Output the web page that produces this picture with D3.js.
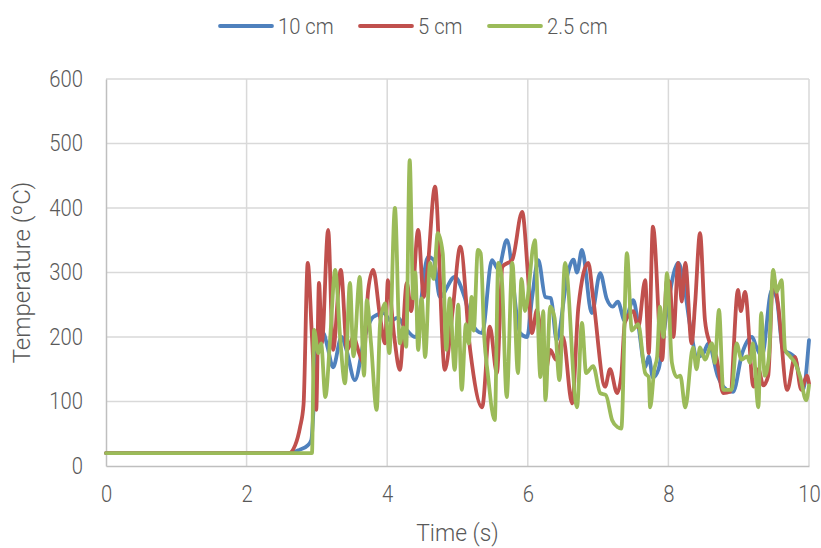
<!DOCTYPE html>
<html>
<head>
<meta charset="utf-8">
<script src="https://cdn.jsdelivr.net/npm/d3@7"></script>
<style>
  html, body { margin: 0; padding: 0; background: #fff; }
  svg { display: block; font-family: Roboto, "Open Sans", sans-serif; font-weight: 300; }
</style>
</head>
<body>
<svg id="chart" width="821" height="548"></svg>
<script>
// ---- data ----
const seriesNames = ["10 cm", "5 cm", "2.5 cm"];
const xTicks = [0, 2, 4, 6, 8, 10];
const yTicks = [0, 100, 200, 300, 400, 500, 600];

const blueT = [0, 2.6, 2.75, 2.87, 2.92, 3.0, 3.09, 3.15, 3.23, 3.35, 3.42, 3.54, 3.68, 3.80, 3.95, 4.05, 4.15, 4.25, 4.40, 4.58, 4.66, 4.75, 4.96, 5.10, 5.2, 5.35, 5.49, 5.58, 5.70, 5.89, 5.99, 6.06, 6.15, 6.25, 6.33, 6.41, 6.57, 6.65, 6.70, 6.77, 6.91, 7.03, 7.12, 7.21, 7.28, 7.38, 7.50, 7.57, 7.67, 7.72, 7.78, 7.86, 7.98, 8.14, 8.21, 8.31, 8.41, 8.5, 8.57, 8.7, 8.83, 8.92, 9.05, 9.19, 9.25, 9.33, 9.47, 9.54, 9.63, 9.72, 9.80, 9.91, 10];
const blueV = [20, 20, 25, 32, 40, 180, 206, 185, 153, 200, 180, 133, 200, 231, 237, 225, 230, 215, 200, 324, 320, 262, 293, 262, 222, 206, 319, 305, 350, 206, 200, 260, 319, 262, 260, 195, 299, 320, 300, 335, 237, 299, 260, 247, 255, 225, 257, 220, 153, 170, 137, 150, 242, 315, 290, 216, 169, 175, 190, 140, 118, 115, 175, 200, 185, 170, 273, 260, 180, 175, 168, 118, 195];

const redT = [0, 2.6, 2.69, 2.76, 2.81, 2.87, 2.93, 2.99, 3.03, 3.07, 3.16, 3.23, 3.34, 3.43, 3.52, 3.60, 3.66, 3.73, 3.80, 3.90, 3.97, 4.01, 4.10, 4.18, 4.28, 4.34, 4.44, 4.52, 4.57, 4.68, 4.82, 4.93, 5.04, 5.18, 5.35, 5.46, 5.56, 5.64, 5.78, 5.92, 6.0, 6.06, 6.13, 6.25, 6.32, 6.40, 6.50, 6.63, 6.72, 6.86, 6.93, 7.10, 7.17, 7.27, 7.33, 7.38, 7.50, 7.57, 7.67, 7.72, 7.78, 7.91, 7.98, 8.02, 8.07, 8.14, 8.19, 8.24, 8.33, 8.38, 8.45, 8.52, 8.59, 8.68, 8.78, 8.88, 8.99, 9.03, 9.09, 9.21, 9.28, 9.35, 9.42, 9.49, 9.56, 9.69, 9.80, 9.89, 9.97, 10];
const redV = [20, 20, 32, 60, 95, 315, 200, 87, 284, 190, 366, 180, 304, 180, 200, 175, 160, 273, 304, 230, 190, 288, 200, 149, 284, 240, 366, 262, 300, 433, 149, 240, 340, 180, 91, 216, 144, 309, 320, 394, 300, 206, 242, 144, 180, 165, 200, 97, 247, 315, 260, 123, 150, 113, 140, 222, 240, 215, 288, 175, 371, 164, 288, 285, 200, 315, 255, 315, 190, 252, 361, 226, 190, 170, 113, 115, 273, 240, 270, 123, 150, 125, 140, 293, 250, 118, 169, 118, 140, 128];

const greenT = [0, 2.93, 2.96, 3.02, 3.06, 3.12, 3.19, 3.26, 3.33, 3.40, 3.47, 3.52, 3.61, 3.67, 3.71, 3.77, 3.85, 3.90, 3.97, 4.03, 4.11, 4.18, 4.23, 4.27, 4.32, 4.37, 4.40, 4.44, 4.49, 4.54, 4.61, 4.66, 4.72, 4.79, 4.84, 4.89, 4.96, 5.01, 5.06, 5.12, 5.16, 5.2, 5.23, 5.29, 5.33, 5.38, 5.43, 5.53, 5.58, 5.63, 5.70, 5.78, 5.86, 5.91, 5.96, 6.10, 6.18, 6.22, 6.25, 6.32, 6.38, 6.45, 6.53, 6.70, 6.77, 6.83, 6.93, 7.03, 7.11, 7.20, 7.28, 7.33, 7.41, 7.48, 7.57, 7.67, 7.72, 7.74, 7.80, 7.84, 7.88, 7.93, 7.98, 8.05, 8.12, 8.17, 8.24, 8.35, 8.40, 8.45, 8.52, 8.62, 8.66, 8.72, 8.78, 8.90, 8.97, 9.04, 9.12, 9.16, 9.20, 9.28, 9.32, 9.37, 9.43, 9.49, 9.54, 9.61, 9.66, 9.73, 9.80, 9.87, 9.96, 10];
const greenV = [20, 20, 211, 175, 190, 107, 200, 304, 200, 128, 284, 170, 293, 140, 257, 190, 87, 222, 252, 175, 400, 190, 215, 185, 474, 260, 300, 180, 260, 169, 315, 290, 361, 330, 180, 260, 149, 250, 118, 220, 190, 262, 210, 335, 330, 200, 144, 71, 315, 290, 107, 315, 144, 290, 240, 350, 138, 240, 102, 247, 230, 133, 315, 91, 222, 144, 155, 113, 110, 71, 60, 58, 330, 210, 220, 144, 138, 91, 150, 170, 247, 200, 299, 160, 138, 140, 91, 184, 150, 184, 165, 190, 160, 242, 118, 118, 190, 165, 170, 160, 190, 91, 237, 140, 170, 304, 270, 288, 180, 170, 160, 140, 102, 125];

const colors = ["#4f81bd", "#c0504d", "#9bbb59"];

// ---- chart ----
const svg = d3.select("#chart");
const mLeft = 106, mRight = 809, mTop = 79, mBottom = 466;
const x = d3.scaleLinear().domain([0, 10]).range([mLeft, mRight]);
const y = d3.scaleLinear().domain([0, 600]).range([mBottom, mTop]);

const textColor = "#595959";
const gridColor = "#d9d9d9";
const sx = 0.88; // horizontal squeeze of tick text

// gridlines
svg.append("g").selectAll("line").data(yTicks.slice(1)).join("line")
  .attr("x1", mLeft).attr("x2", mRight)
  .attr("y1", d => y(d)).attr("y2", d => y(d))
  .attr("stroke", gridColor).attr("stroke-width", 1.5);
svg.append("g").selectAll("line").data(xTicks.slice(1)).join("line")
  .attr("y1", mTop).attr("y2", mBottom)
  .attr("x1", d => x(d)).attr("x2", d => x(d))
  .attr("stroke", gridColor).attr("stroke-width", 1.5);

// axes
const yAxis = svg.append("g").attr("transform", `translate(${mLeft},0)`)
  .call(d3.axisLeft(y).tickValues(yTicks).tickSize(0).tickPadding(23));
const xAxis = svg.append("g").attr("transform", `translate(0,${mBottom})`)
  .call(d3.axisBottom(x).tickValues(xTicks).tickSize(0).tickPadding(20));
[yAxis, xAxis].forEach(a => {
  a.select(".domain").attr("stroke", "#bfbfbf").attr("stroke-width", 1.5);
  a.selectAll("text").attr("fill", textColor).style("font-size", "23px")
    .style("font-family", "Roboto, sans-serif").style("font-weight", 300);
});
yAxis.selectAll("text").attr("x", -23 / sx).attr("transform", `scale(${sx},1)`);
xAxis.selectAll("text").attr("transform", `scale(${sx},1)`);

// axis titles
svg.append("text")
  .attr("transform", `translate(30,${(mTop + mBottom) / 2}) rotate(-90)`)
  .attr("text-anchor", "middle")
  .attr("fill", textColor).style("font-size", "24px")
  .text("Temperature (ºC)");
svg.append("text")
  .attr("transform", `translate(${(mLeft + mRight) / 2},541) scale(0.95,1)`)
  .attr("text-anchor", "middle")
  .attr("fill", textColor).style("font-size", "24px")
  .text("Time (s)");

// lines
const line = d3.line().x(d => x(d[0])).y(d => y(d[1])).curve(d3.curveMonotoneX);
const series = [
  d3.zip(blueT, blueV),
  d3.zip(redT, redV),
  d3.zip(greenT, greenV)
];
svg.append("g").selectAll("path").data(series).join("path")
  .attr("d", line)
  .attr("fill", "none")
  .attr("stroke", (d, i) => colors[i])
  .attr("stroke-width", 3.8)
  .attr("stroke-linejoin", "round")
  .attr("stroke-linecap", "round");

// legend
const legendX = [220, 360, 489];
const lg = svg.append("g").selectAll("g").data(seriesNames).join("g")
  .attr("transform", (d, i) => `translate(${legendX[i]},26)`);
lg.append("line").attr("x1", 0).attr("x2", 52).attr("y1", 0).attr("y2", 0)
  .attr("stroke", (d, i) => colors[i]).attr("stroke-width", 3.8)
  .attr("stroke-linecap", "round");
lg.append("text")
  .attr("transform", `translate(58,0) scale(0.92,1)`)
  .attr("dy", "0.35em")
  .attr("fill", textColor).style("font-size", "22px").text(d => d);
</script>
</body>
</html>
